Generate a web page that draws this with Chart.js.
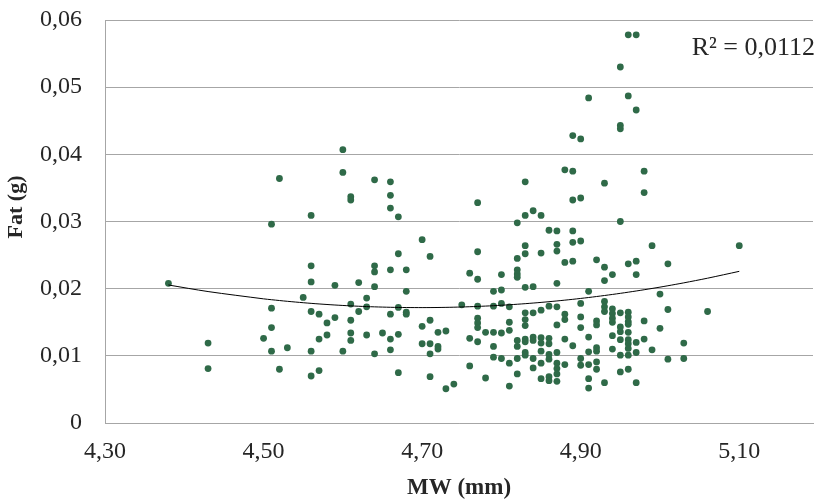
<!DOCTYPE html>
<html>
<head>
<meta charset="utf-8">
<script src="https://cdn.jsdelivr.net/npm/chart.js@4.4.1/dist/chart.umd.min.js"></script>
<style>
html,body{margin:0;padding:0;background:#fff;overflow:hidden}
#wrap{width:817px;height:501px;position:relative}
</style>
</head>
<body>
<div id="wrap"><canvas id="c" width="817" height="501"></canvas></div>
<script>
// MW (mm) levels and the Fat (g) readings observed at each level
const mwLevels = [4.38,4.43,4.50,4.51,4.52,4.53,4.55,4.56,4.57,4.58,4.59,4.60,4.61,4.62,4.63,4.64,4.65,4.66,4.67,4.68,
  4.70,4.71,4.72,4.73,4.74,4.75,4.76,4.77,4.78,4.79,4.80,4.81,4.82,4.83,4.84,4.85,4.86,4.87,4.88,4.89,
  4.90,4.91,4.92,4.93,4.94,4.95,4.96,4.97,4.98,4.99,5.00,5.01,5.03,5.06,5.10];
const fatByLevel = [
  [0.0208],
  [0.0119,0.0081],
  [0.0126],
  [0.0296,0.0171,0.0142,0.0107],
  [0.0364,0.0080],
  [0.0112],
  [0.0187],
  [0.0309,0.0234,0.0210,0.0166,0.0107,0.0070],
  [0.0162,0.0125,0.0078],
  [0.0149,0.0131],
  [0.0205,0.0157],
  [0.0407,0.0373,0.0107],
  [0.0337,0.0332,0.0177,0.0153,0.0134,0.0123],
  [0.0209,0.0166],
  [0.0186,0.0173,0.0131],
  [0.0362,0.0234,0.0225,0.0203,0.0103],
  [0.0134],
  [0.0359,0.0339,0.0320,0.0228,0.0162,0.0125,0.0109],
  [0.0307,0.0252,0.0172,0.0132,0.0075],
  [0.0228,0.0196,0.0165,0.0162],
  [0.0273,0.0144,0.0118],
  [0.0248,0.0153,0.0118,0.0103,0.0069],
  [0.0135,0.0114,0.0110],
  [0.0137,0.0051],
  [0.0058],
  [0.0176],
  [0.0223,0.0126,0.0085],
  [0.0328,0.0255,0.0214,0.0174,0.0156,0.0149,0.0142,0.0121],
  [0.0135,0.0067],
  [0.0196,0.0174,0.0135,0.0114,0.0098],
  [0.0221,0.0198,0.0178,0.0134,0.0096],
  [0.0173,0.0150,0.0138,0.0089,0.0055],
  [0.0298,0.0245,0.0228,0.0222,0.0217,0.0123,0.0114,0.0096,0.0073],
  [0.0359,0.0309,0.0264,0.0252,0.0202,0.0164,0.0154,0.0145,0.0125,0.0121,0.0105,0.0101],
  [0.0316,0.0203,0.0164,0.0128,0.0123,0.0096,0.0082],
  [0.0309,0.0253,0.0168,0.0127,0.0119,0.0107,0.0089,0.0066],
  [0.0287,0.0174,0.0126,0.0118,0.0102,0.0095,0.0069,0.0063],
  [0.0286,0.0266,0.0256,0.0208,0.0173,0.0146,0.0105,0.0089,0.0081,0.0073,0.0062],
  [0.0377,0.0239,0.0162,0.0154,0.0125,0.0087],
  [0.0428,0.0375,0.0332,0.0286,0.0269,0.0241,0.0115],
  [0.0423,0.0335,0.0271,0.0178,0.0158,0.0142,0.0096,0.0086],
  [0.0484,0.0196,0.0128,0.0106,0.0087,0.0066,0.0052],
  [0.0243,0.0152,0.0146,0.0112,0.0107,0.0091,0.0080],
  [0.0357,0.0232,0.0212,0.0181,0.0173,0.0166,0.0060],
  [0.0221,0.0170,0.0163,0.0156,0.0150,0.0130,0.0110],
  [0.0530,0.0443,0.0438,0.0300,0.0164,0.0143,0.0136,0.0124,0.0101,0.0076],
  [0.0578,0.0487,0.0237,0.0165,0.0158,0.0151,0.0147,0.0135,0.0124,0.0118,0.0111,0.0101,0.0080],
  [0.0578,0.0466,0.0241,0.0221,0.0120,0.0105,0.0060],
  [0.0375,0.0343,0.0152,0.0125],
  [0.0264,0.0109],
  [0.0192,0.0141],
  [0.0237,0.0169,0.0095],
  [0.0119,0.0096],
  [0.0166],
  [0.0264]
];
const xTicks = [4.30,4.50,4.70,4.90,5.10];
const yTicks = [0,0.01,0.02,0.03,0.04,0.05,0.06];
const xTitle = 'MW (mm)';
const yTitle = 'Fat (g)';
const r2Label = 'R² = 0,0112';

// build scatter points
const points = [];
mwLevels.forEach((x, i) => fatByLevel[i].forEach(y => points.push({x, y})));

// 2nd-order polynomial least-squares trendline (as in the original)
function quadFit(pts) {
  const n = pts.length;
  const m = pts.reduce((a, p) => a + p.x, 0) / n;
  let s0 = n, s1 = 0, s2 = 0, s3 = 0, s4 = 0, t0 = 0, t1 = 0, t2 = 0;
  pts.forEach(p => {
    const u = p.x - m, u2 = u * u;
    s1 += u; s2 += u2; s3 += u2 * u; s4 += u2 * u2;
    t0 += p.y; t1 += u * p.y; t2 += u2 * p.y;
  });
  const A = [[s0, s1, s2, t0], [s1, s2, s3, t1], [s2, s3, s4, t2]];
  for (let i = 0; i < 3; i++) {
    for (let k = i + 1; k < 3; k++) {
      const f = A[k][i] / A[i][i];
      for (let j = i; j < 4; j++) A[k][j] -= f * A[i][j];
    }
  }
  const c = [0, 0, 0];
  for (let i = 2; i >= 0; i--) {
    let s = A[i][3];
    for (let j = i + 1; j < 3; j++) s -= A[i][j] * c[j];
    c[i] = s / A[i][i];
  }
  return x => { const u = x - m; return c[0] + c[1] * u + c[2] * u * u; };
}
const fit = quadFit(points);
const trend = mwLevels.map(x => ({x, y: fit(x)}));

const FONT = "'Liberation Serif','Times New Roman',serif";
const GRID = '#a6a6a6';
const TEXT = '#262626';
const X_MIN = 4.30, X_MAX = 5.193;

const textPlugin = {
  id: 'extraText',
  afterDraw(chart) {
    const ctx = chart.ctx;
    ctx.save();
    ctx.fillStyle = TEXT;
    ctx.font = "26px " + FONT;
    ctx.textAlign = 'right';
    ctx.textBaseline = 'middle';
    ctx.fillText(r2Label, 815, 48);
    ctx.translate(16, 207);
    ctx.rotate(-Math.PI / 2);
    ctx.font = "bold 22px " + FONT;
    ctx.textAlign = 'center';
    ctx.fillText(yTitle, 0, 0);
    ctx.restore();
  }
};

new Chart(document.getElementById('c'), {
  type: 'scatter',
  data: {
    datasets: [
      {
        type: 'line',
        label: 'Poly. trend',
        data: trend,
        borderColor: '#000',
        borderWidth: 1,
        pointRadius: 0,
        fill: false,
        tension: 0.3,
        order: 0
      },
      {
        label: 'Fat',
        data: points,
        backgroundColor: '#2f6a48',
        borderColor: '#2f6a48',
        borderWidth: 0,
        pointRadius: 3.4,
        order: 1
      }
    ]
  },
  options: {
    responsive: false,
    animation: false,
    layout: { padding: { left: 0, right: 0, top: 20, bottom: 0 } },
    plugins: { legend: { display: false }, tooltip: { enabled: false } },
    scales: {
      x: {
        type: 'linear',
        min: X_MIN,
        max: X_MAX,
        afterBuildTicks: s => { s.ticks = xTicks.map(v => ({ value: v })); },
        afterFit: s => { s.height = 78; s.paddingLeft = 0; s.paddingRight = 0; },
        grid: { display: false, drawTicks: false },
        border: { display: true, color: GRID, width: 1 },
        ticks: {
          padding: 14,
          color: TEXT,
          font: { family: FONT, size: 24 },
          maxRotation: 0,
          autoSkip: false,
          callback: v => v.toFixed(2).replace('.', ',')
        },
        title: {
          display: true,
          text: xTitle,
          color: TEXT,
          font: { family: FONT, size: 23, weight: 'bold', lineHeight: 1 },
          padding: { top: 0, bottom: 1 }
        }
      },
      y: {
        min: 0,
        max: 0.06,
        afterBuildTicks: s => { s.ticks = yTicks.map(v => ({ value: v })); },
        afterFit: s => { s.width = 105; s.paddingTop = 0; s.paddingBottom = 0; },
        grid: { color: GRID, lineWidth: 1, drawTicks: false },
        border: { display: true, color: GRID, width: 1 },
        ticks: {
          padding: 23,
          color: TEXT,
          font: { family: FONT, size: 24 },
          callback: v => v === 0 ? '0' : v.toFixed(2).replace('.', ',')
        }
      }
    }
  },
  plugins: [textPlugin]
});
</script>
</body>
</html>
